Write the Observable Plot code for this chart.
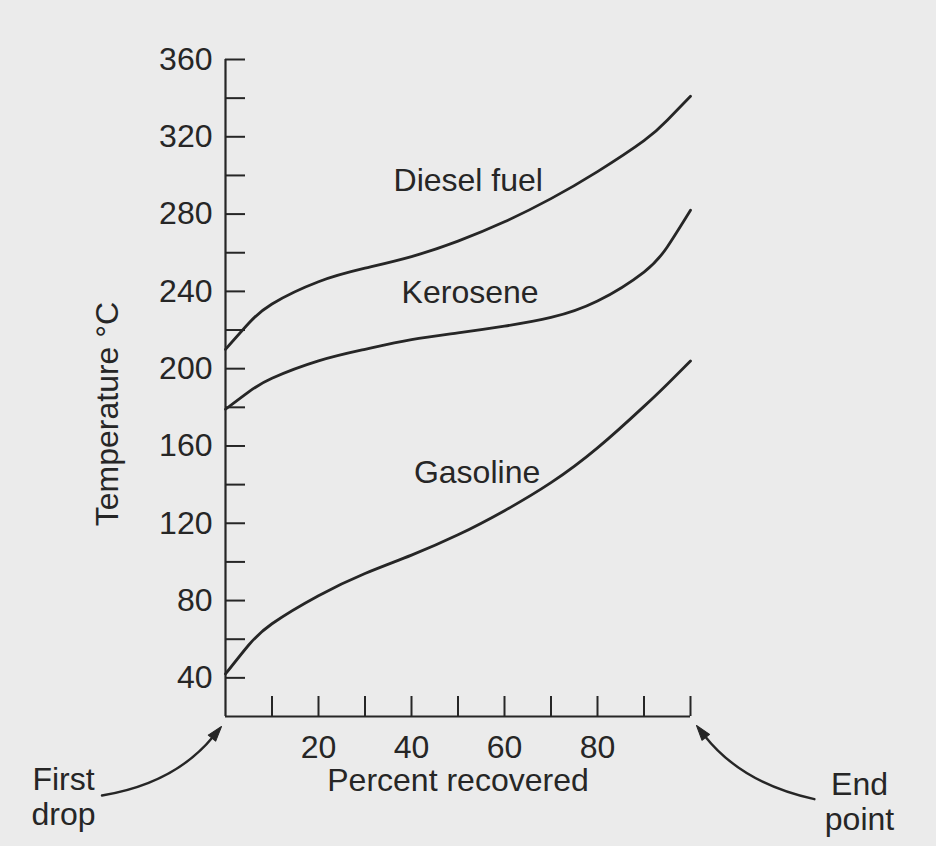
<!DOCTYPE html>
<html>
<head>
<meta charset="utf-8">
<script src="https://cdn.jsdelivr.net/npm/d3@7"></script>
<script src="https://cdn.jsdelivr.net/npm/@observablehq/plot@0.6"></script>
<style>
  html, body { margin: 0; padding: 0; background: #ebebeb; }
  #chart svg { display: block; }
</style>
</head>
<body>
<div id="chart"></div>
<script>
// ---- Data ----
const percentRecovered = [0, 5, 10, 20, 30, 40, 50, 60, 70, 80, 90, 95, 100];
const dieselFuelTemp   = [210, 223.5, 233.5, 245, 252, 258, 266, 276, 288, 302, 318, 328.6, 341];
const keroseneTemp     = [179, 188, 195, 204, 210, 215, 218.5, 222, 226.5, 235, 250, 263, 282];
const gasolineTemp     = [42, 57, 68, 82.5, 94, 103.5, 114, 126.5, 141, 159, 180.5, 192, 204];

const fuelNames  = ["Diesel fuel", "Kerosene", "Gasoline"];
const fuelTemps  = [dieselFuelTemp, keroseneTemp, gasolineTemp];
// where each curve's name is written (percent, °C)
const labelPercent = [52.2, 52.6, 54.1];
const labelTemp    = [297, 239.4, 146.2];

const yTickValues  = [40, 60, 80, 100, 120, 140, 160, 180, 200, 220, 240, 260, 280, 300, 320, 340, 360];
const yTickLabels  = [40, 80, 120, 160, 200, 240, 280, 320, 360];
const xTickValues  = [10, 20, 30, 40, 50, 60, 70, 80, 90, 100];
const xTickLabels  = [20, 40, 60, 80];

const xTitle = "Percent recovered";
const yTitle = "Temperature °C";

// annotations: text and the point of the axis they point at
const annotationText    = ["First\ndrop", "End\npoint"];
const annotationPercent = [0, 100];
const annotationTemp    = [20, 20];

// ---- Build tables ----
const rows = fuelNames.flatMap((name, s) =>
  percentRecovered.map((p, i) => ({fuel: name, percent: p, temp: fuelTemps[s][i]})));
const curveLabels = fuelNames.map((name, i) => ({name, percent: labelPercent[i], temp: labelTemp[i]}));
const annotations = annotationText.map((t, i) => ({text: t, percent: annotationPercent[i], temp: annotationTemp[i]}));

const ink = "#262626";
const W = 936, H = 846;
const mL = 225, mR = 246, mT = 59, mB = 130;
const frameW = W - mL - mR, frameH = H - mT - mB;
const tickLen = 20;

// curved arrow shape for the vector mark (tail at 0,0, tip at 0,-l)
function curvedArrow(bend, part) {
  return {
    draw(context, l) {
      const head = 15, half = 4.8;
      const tx = -bend, ty = -l / 2;
      const n = Math.hypot(tx, ty);
      const ux = tx / n, uy = ty / n;
      const bx = -ux * head, by = -l - uy * head;
      if (part === "line") {
        context.moveTo(0, 0);
        context.quadraticCurveTo(bend, -l / 2, bx + ux * 2, by + uy * 2);
      } else {
        context.moveTo(0, -l);
        context.lineTo(bx - uy * half, by + ux * half);
        context.lineTo(bx + uy * half, by - ux * half);
        context.closePath();
      }
    }
  };
}

const arrowSpecs = [
  {datum: annotations[0], length: 138, rotate: 60, bend: 26, dx: -4, dy: 10},
  {datum: annotations[1], length: 139, rotate: -58, bend: -25, dx: 6, dy: 9}
];
const arrowMarks = arrowSpecs.flatMap(a => [
  Plot.vector([a.datum], {x: "percent", y: "temp", length: a.length, rotate: a.rotate, anchor: "end",
    shape: curvedArrow(a.bend, "line"), stroke: ink, strokeWidth: 2.4, fill: "none", dx: a.dx, dy: a.dy}),
  Plot.vector([a.datum], {x: "percent", y: "temp", length: a.length, rotate: a.rotate, anchor: "end",
    shape: curvedArrow(a.bend, "head"), stroke: ink, strokeWidth: 1, fill: ink, dx: a.dx, dy: a.dy})
]);

const chart = Plot.plot({
  width: W,
  height: H,
  marginLeft: mL,
  marginRight: mR,
  marginTop: mT,
  marginBottom: mB,
  x: {domain: [0, 100]},
  y: {domain: [20, 360]},
  style: {
    background: "#ebebeb",
    fontFamily: "'Liberation Sans', Arial, Helvetica, sans-serif",
    fontSize: "32px",
    color: ink,
    overflow: "visible"
  },
  marks: [
    // inward tick marks
    Plot.ruleY(yTickValues, {y: d => d, insetRight: frameW - tickLen, stroke: ink, strokeWidth: 2}),
    Plot.ruleX(xTickValues, {x: d => d, insetTop: frameH - tickLen, stroke: ink, strokeWidth: 2}),
    // axis lines
    Plot.ruleX([0], {stroke: ink, strokeWidth: 2.2}),
    Plot.ruleY([20], {stroke: ink, strokeWidth: 2.2}),
    // tick labels
    Plot.axisY({ticks: yTickLabels, tickSize: 0, tickPadding: 13, label: null}),
    Plot.axisX({ticks: xTickLabels, tickSize: 0, tickPadding: 19, label: null}),
    // axis titles
    Plot.text([xTitle], {text: d => d, frameAnchor: "bottom", dy: 64, lineAnchor: "middle", textAnchor: "middle", fill: ink}),
    Plot.text([yTitle], {text: d => d, frameAnchor: "left", rotate: -90, dx: -118, dy: 26, lineAnchor: "middle", textAnchor: "middle", fill: ink, letterSpacing: 1}),
    // distillation curves
    Plot.line(rows, {x: "percent", y: "temp", z: "fuel", curve: "natural", stroke: ink, strokeWidth: 2.8}),
    // curve names
    Plot.text(curveLabels, {x: "percent", y: "temp", text: "name", fill: ink}),
    // annotations
    Plot.text([annotations[0]], {x: "percent", y: "temp", text: "text", dx: -162, dy: 80, lineHeight: 1.1, textAnchor: "middle", fill: ink}),
    Plot.text([annotations[1]], {x: "percent", y: "temp", text: "text", dx: 169, dy: 85, lineHeight: 1.1, textAnchor: "middle", fill: ink}),
    ...arrowMarks
  ]
});

document.getElementById("chart").appendChild(chart);
</script>
</body>
</html>
